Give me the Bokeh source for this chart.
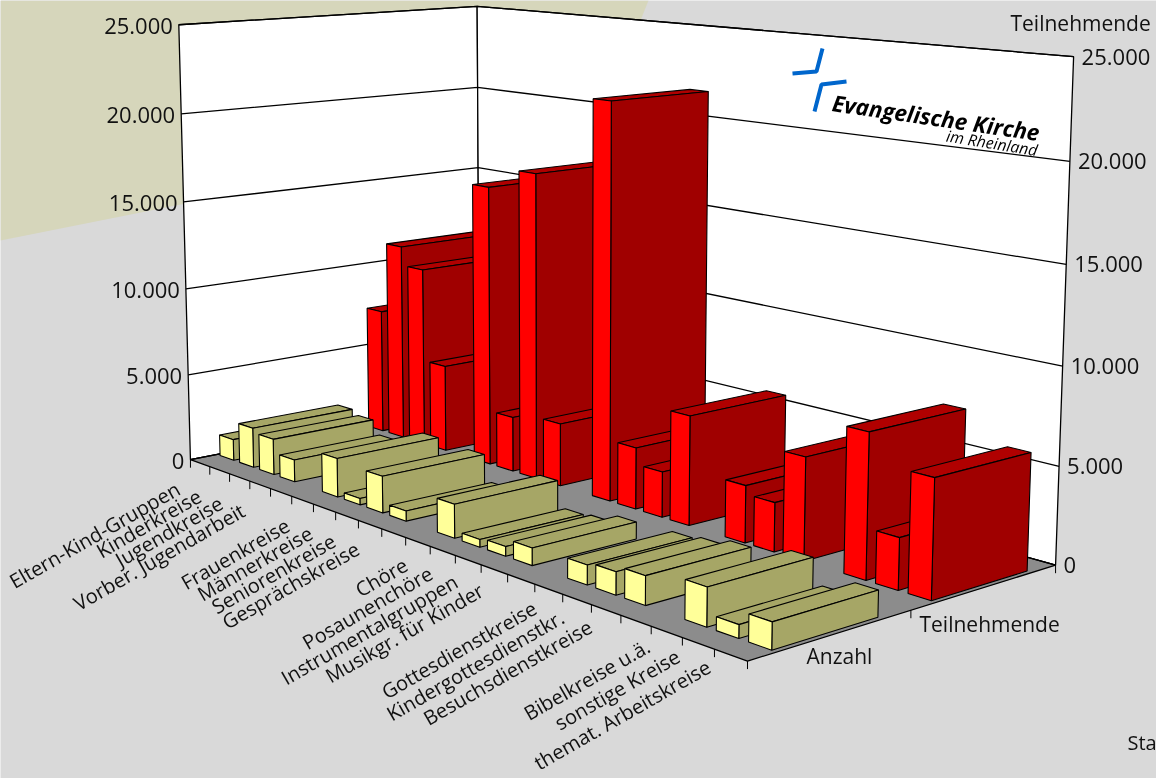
import numpy as np
from bokeh.plotting import figure
from bokeh.core.properties import value
from bokeh.embed import file_html
from bokeh.resources import INLINE

categories = ["Eltern-Kind-Gruppen", "Kinderkreise", "Jugendkreise", "Vorber. Jugendarbeit", None,
              "Frauenkreise", "Männerkreise", "Seniorenkreise", "Gesprächskreise", None,
              "Chöre", "Posaunenchöre", "Instrumentalgruppen", "Musikgr. für Kinder", None,
              "Gottesdienstkreise", "Kindergottesdienstkr.", "Besuchsdienstkreise", None,
              "Bibelkreise u.ä.", "sonstige Kreise", "themat. Arbeitskreise"]
anzahl = [1220, 2280, 2030, 1250, None, 2150, 350, 2000, 550, None,
          1800, 400, 500, 900, None, 1000, 1150, 1450, None, 1900, 650, 1300]
teilnehmende = [7300, 11500, 10400, 5000, None, 15950, 3100, 17150, 3500, None,
                21650, 3350, 2450, 5850, None, 3000, 2550, 5300, None, 7350, 2600, 5950]
value_ticks = [0, 5000, 10000, 15000, 20000, 25000]
tick_labels = ["0", "5.000", "10.000", "15.000", "20.000", "25.000"]
series = ["Anzahl", "Teilnehmende"]
VMAX = 25000.0
FONT = "Open Sans"

box = [((0, 0, 0), (191, 464)), ((1, 0, 0), (746, 657)), ((1, 1, 0), (1056, 568)),
       ((0, 1, 0), (478, 398)), ((0, 0, 1), (178, 22)), ((0, 1, 1), (477, 8)), ((1, 1, 1), (1073, 56))]
rows = []
for (c, d, v), (x, y) in box:
    rows.append([c, d, v, 1, 0, 0, 0, 0, -x*c, -x*d, -x*v, -x])
    rows.append([0, 0, 0, 0, c, d, v, 1, -y*c, -y*d, -y*v, -y])
P = np.linalg.svd(np.array(rows, float))[2][-1].reshape(3, 4)

def pr(c, d, val):
    h = P @ np.array([c, d, val / VMAX, 1.0])
    return float(h[0] / h[2]), float(h[1] / h[2])

N = len(categories)
BAR_W = 0.35
ROW = {0: (0.085, 0.41), 1: (0.584, 0.915)}
COL = {0: ("#ffff99", "#a6a666", "#a6a666"), 1: ("#ff0000", "#a00000", "#b00000")}

p = figure(width=1156, height=778, x_range=(0, 1156), y_range=(778, 0), toolbar_location=None,
           output_backend="svg", min_border=0, background_fill_color="#d9d9d9", border_fill_color="#d9d9d9",
           outline_line_color=None)
p.styles = {"position": "fixed", "left": "0px", "top": "0px"}
p.axis.visible = False
p.grid.visible = False

p.patch([0, 648, 600, 0], [0, 0, 120, 240], fill_color="#d6d6bb", line_color=None)

def quad(pts):
    s = [pr(*q) for q in pts]
    return [a for a, _ in s], [b for _, b in s]

for pts, fc in [([(0, 0, 0), (0, 1, 0), (0, 1, VMAX), (0, 0, VMAX)], "#ffffff"),
                ([(0, 1, 0), (1, 1, 0), (1, 1, VMAX), (0, 1, VMAX)], "#ffffff"),
                ([(0, 0, 0), (1, 0, 0), (1, 1, 0), (0, 1, 0)], "#8c8c8c")]:
    xs, ys = quad(pts)
    p.patch(xs, ys, fill_color=fc, line_color="#000000", line_width=1.3)

gx, gy = [], []
for v in value_ticks:
    xs, ys = quad([(0, 0, v), (0, 1, v), (1, 1, v)])
    gx.append(xs); gy.append(ys)
p.multi_line(gx, gy, line_color="#000000", line_width=1.3)

tx, ty = [], []
for i in range(N + 1):
    x, y = pr(i / N, 0, 0)
    tx.append([x, x]); ty.append([y, y + 8])
for d in (0.5, 1.0):
    x, y = pr(1, d, 0)
    tx.append([x, x]); ty.append([y, y + 8])
p.multi_line(tx, ty, line_color="#000000", line_width=1)

fx, fy, fc = [], [], []
for r, vals in ((1, teilnehmende), (0, anzahl)):
    d0, d1 = ROW[r]
    front, side, top = COL[r]
    for i, val in enumerate(vals):
        if val is None:
            continue
        c0, c1 = (i + 0.5 - BAR_W) / N, (i + 0.5 + BAR_W) / N
        for pts, col in [([(c0, d0, val), (c1, d0, val), (c1, d1, val), (c0, d1, val)], top),
                         ([(c1, d0, 0), (c1, d1, 0), (c1, d1, val), (c1, d0, val)], side),
                         ([(c0, d0, 0), (c1, d0, 0), (c1, d0, val), (c0, d0, val)], front)]:
            xs, ys = quad(pts)
            fx.append(xs); fy.append(ys); fc.append(col)
p.patches(fx, fy, fill_color=fc, line_color="#000000", line_width=1.1)

lx, ly, rx, ry = [], [], [], []
for v in value_ticks:
    x, y = pr(0, 0, v); lx.append(x - 6); ly.append(y + 1.5)
    x, y = pr(1, 1, v); rx.append(x + 8); ry.append(y)
p.text(lx, ly, text=tick_labels, text_align="right", text_baseline="middle", text_font=value(FONT),
       text_font_size="22px", text_color="#111111")
p.text(rx, ry, text=tick_labels, text_align="left", text_baseline="middle", text_font=value(FONT),
       text_font_size="22px", text_color="#111111")

cx, cy, ct = [], [], []
for i, name in enumerate(categories):
    if name is None:
        continue
    x, y = pr((i + 0.5) / N, 0, 0)
    t = i / (N - 1)
    bump = 4 * t * (1 - t)
    cx.append(x - 22 + 10 * bump); cy.append(y + 24 - 14 * t + 4 * bump); ct.append(name)
p.text(cx, cy, text=ct, angle=0.52, text_align="right", text_baseline="middle", text_font=value(FONT),
       text_font_size="20px", text_color="#111111")

p.text([806, 919, 1010], [655, 623, 22], text=[series[0], series[1], "Teilnehmende"],
       text_align="left", text_baseline="middle", text_font=value(FONT), text_font_size="21px", text_color="#111111")
p.text([1127], [742], text=["Sta"], text_align="left", text_baseline="middle", text_font=value(FONT),
       text_font_size="20px", text_color="#111111")

p.multi_line([[822, 816, 792], [846, 821, 814]], [[48, 71, 73], [81, 84, 111]], line_color="#0066cc", line_width=4)
p.text([832], [102], text=["Evangelische Kirche"], angle=-0.145, text_align="left", text_baseline="middle",
       text_font=value("Open Sans"), text_font_style="bold italic", text_font_size="22.5px", text_color="#000000")
p.text([946], [135], text=["im Rheinland"], angle=-0.16, text_align="left", text_baseline="middle",
       text_font=value("Open Sans"), text_font_style="italic", text_font_size="15.8px", text_color="#000000")

open("out.html", "w").write(file_html(p, INLINE))
